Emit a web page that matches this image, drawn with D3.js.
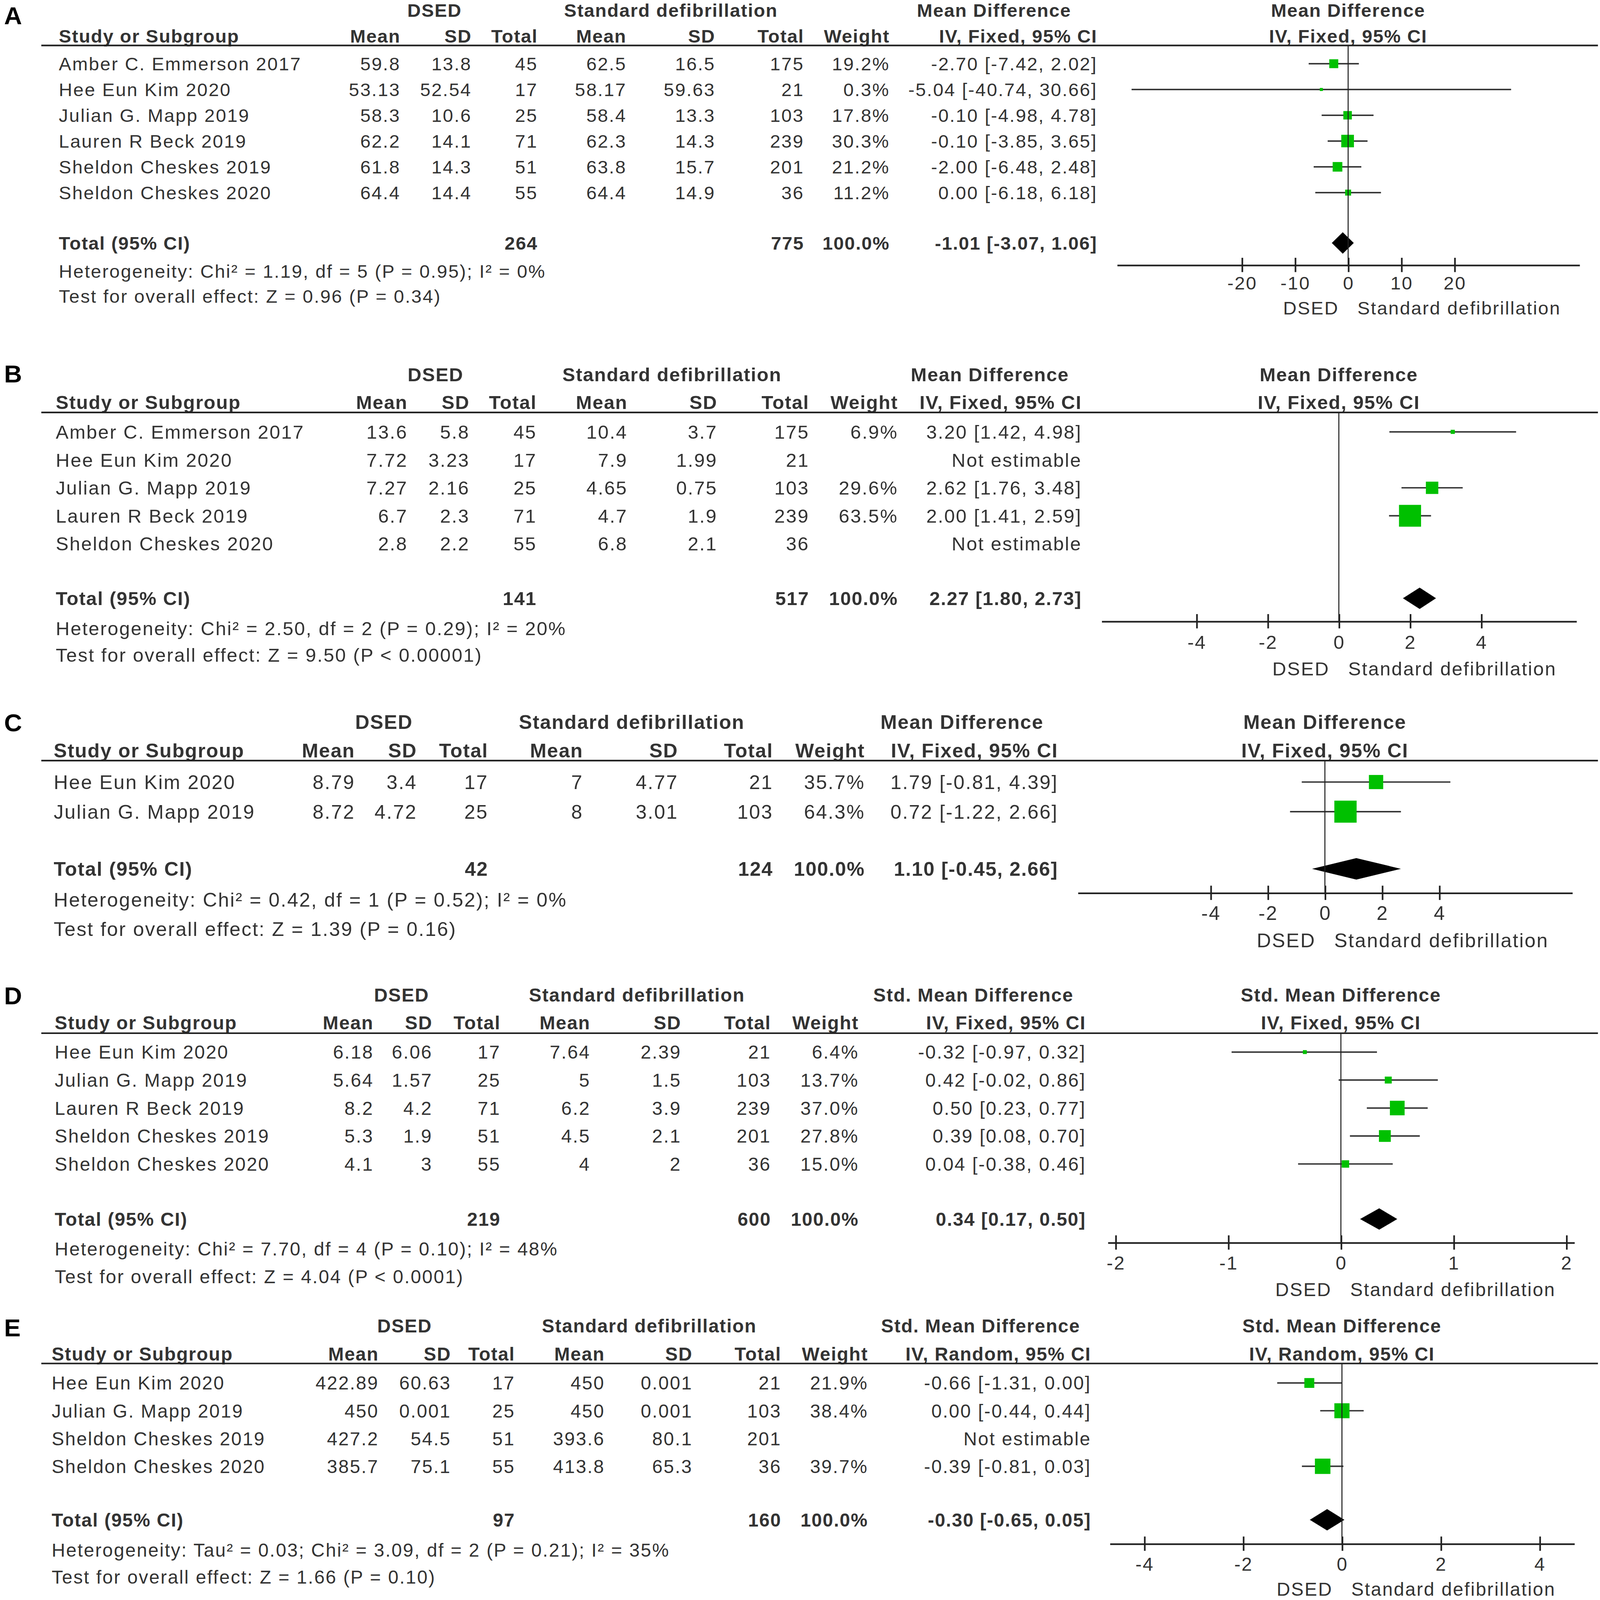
<!DOCTYPE html>
<html>
<head>
<meta charset="utf-8">
<script src="https://cdn.jsdelivr.net/npm/d3@7"></script>
<style>
  html, body { margin: 0; padding: 0; background: #fff; overflow: hidden; }
  svg { display: block; width: 100vw; height: 100vh; }
</style>
</head>
<body>
<svg id="chart"></svg>
<script>
// ---- data ----
// row: [study, DSED mean, DSED SD, DSED n, std mean, std SD, std n, weight %, effect, lower, upper]
var rowsA = [
  ['Amber C. Emmerson 2017', 59.8, 13.8, 45, 62.5, 16.5, 175, 19.2, -2.70, -7.42, 2.02],
  ['Hee Eun Kim 2020', 53.13, 52.54, 17, 58.17, 59.63, 21, 0.3, -5.04, -40.74, 30.66],
  ['Julian G. Mapp 2019', 58.3, 10.6, 25, 58.4, 13.3, 103, 17.8, -0.10, -4.98, 4.78],
  ['Lauren R Beck 2019', 62.2, 14.1, 71, 62.3, 14.3, 239, 30.3, -0.10, -3.85, 3.65],
  ['Sheldon Cheskes 2019', 61.8, 14.3, 51, 63.8, 15.7, 201, 21.2, -2.00, -6.48, 2.48],
  ['Sheldon Cheskes 2020', 64.4, 14.4, 55, 64.4, 14.9, 36, 11.2, 0.00, -6.18, 6.18]
];
var rowsB = [
  ['Amber C. Emmerson 2017', 13.6, 5.8, 45, 10.4, 3.7, 175, 6.9, 3.20, 1.42, 4.98],
  ['Hee Eun Kim 2020', 7.72, 3.23, 17, 7.9, 1.99, 21, null, null, null, null],
  ['Julian G. Mapp 2019', 7.27, 2.16, 25, 4.65, 0.75, 103, 29.6, 2.62, 1.76, 3.48],
  ['Lauren R Beck 2019', 6.7, 2.3, 71, 4.7, 1.9, 239, 63.5, 2.00, 1.41, 2.59],
  ['Sheldon Cheskes 2020', 2.8, 2.2, 55, 6.8, 2.1, 36, null, null, null, null]
];
var rowsC = [
  ['Hee Eun Kim 2020', 8.79, 3.4, 17, 7, 4.77, 21, 35.7, 1.79, -0.81, 4.39],
  ['Julian G. Mapp 2019', 8.72, 4.72, 25, 8, 3.01, 103, 64.3, 0.72, -1.22, 2.66]
];
var rowsD = [
  ['Hee Eun Kim 2020', 6.18, 6.06, 17, 7.64, 2.39, 21, 6.4, -0.32, -0.97, 0.32],
  ['Julian G. Mapp 2019', 5.64, 1.57, 25, 5, 1.5, 103, 13.7, 0.42, -0.02, 0.86],
  ['Lauren R Beck 2019', 8.2, 4.2, 71, 6.2, 3.9, 239, 37.0, 0.50, 0.23, 0.77],
  ['Sheldon Cheskes 2019', 5.3, 1.9, 51, 4.5, 2.1, 201, 27.8, 0.39, 0.08, 0.70],
  ['Sheldon Cheskes 2020', 4.1, 3, 55, 4, 2, 36, 15.0, 0.04, -0.38, 0.46]
];
var rowsE = [
  ['Hee Eun Kim 2020', 422.89, 60.63, 17, 450, 0.001, 21, 21.9, -0.66, -1.31, 0.00],
  ['Julian G. Mapp 2019', 450, 0.001, 25, 450, 0.001, 103, 38.4, 0.00, -0.44, 0.44],
  ['Sheldon Cheskes 2019', 427.2, 54.5, 51, 393.6, 80.1, 201, null, null, null, null],
  ['Sheldon Cheskes 2020', 385.7, 75.1, 55, 413.8, 65.3, 36, 39.7, -0.39, -0.81, 0.03]
];

// totals: [DSED n, std n, weight %, effect, lower, upper]
var totalA = [264, 775, 100.0, -1.01, -3.07, 1.06];
var totalB = [141, 517, 100.0, 2.27, 1.80, 2.73];
var totalC = [42, 124, 100.0, 1.10, -0.45, 2.66];
var totalD = [219, 600, 100.0, 0.34, 0.17, 0.50];
var totalE = [97, 160, 100.0, -0.30, -0.65, 0.05];

var hetA = ['Heterogeneity: Chi² = 1.19, df = 5 (P = 0.95); I² = 0%', 'Test for overall effect: Z = 0.96 (P = 0.34)'];
var hetB = ['Heterogeneity: Chi² = 2.50, df = 2 (P = 0.29); I² = 20%', 'Test for overall effect: Z = 9.50 (P < 0.00001)'];
var hetC = ['Heterogeneity: Chi² = 0.42, df = 1 (P = 0.52); I² = 0%', 'Test for overall effect: Z = 1.39 (P = 0.16)'];
var hetD = ['Heterogeneity: Chi² = 7.70, df = 4 (P = 0.10); I² = 48%', 'Test for overall effect: Z = 4.04 (P < 0.0001)'];
var hetE = ['Heterogeneity: Tau² = 0.03; Chi² = 3.09, df = 2 (P = 0.21); I² = 35%', 'Test for overall effect: Z = 1.66 (P = 0.10)'];

var ticksA = [-20, -10, 0, 10, 20];
var ticksB = [-4, -2, 0, 2, 4];
var ticksC = [-4, -2, 0, 2, 4];
var ticksD = [-2, -1, 0, 1, 2];
var ticksE = [-4, -2, 0, 2, 4];

var groupLabels = ['DSED', 'Standard defibrillation'];
var colLabels = ['Mean', 'SD', 'Total', 'Mean', 'SD', 'Total', 'Weight'];

// ---- layout (figure drawn in a 1550 x 1567 unit space, stretched to the window) ----
var VW = 1550, VH = 1550 * 4471 / 4422;
var FONT = "'Liberation Sans', Arial, sans-serif";
var INK = '#333', LINE = '#222', GREEN = '#00c000';

var panels = [
  { letter: 'A', rows: rowsA, total: totalA, het: hetA, ticks: ticksA,
    effect: 'Mean Difference', method: 'IV, Fixed, 95% CI',
    fs: 18, letterY: 23.7, yH1: 10, yH2: 35.2, yLine: 44.5, yRow0: 62.4, step: 25.25,
    yTotal: 238, yHet: 265.5, yTest: 290, yAxis: 259.5, yTick: 277, yLegend: 301.5,
    cols: [57, 388, 457, 521, 607, 693, 779, 862, 1063], groupX: [421, 650, 963],
    range: [1082, 1530], half: 43.5 },
  { letter: 'B', rows: rowsB, total: totalB, het: hetB, ticks: ticksB,
    effect: 'Mean Difference', method: 'IV, Fixed, 95% CI',
    fs: 18.5, letterY: 374.6, yH1: 366.6, yH2: 393.8, yLine: 404, yRow0: 423, step: 27.4,
    yTotal: 586, yHet: 615.5, yTest: 641.5, yAxis: 608.5, yTick: 629, yLegend: 655,
    cols: [54, 395, 455, 520, 608, 695, 784, 870, 1048], groupX: [422, 651, 959],
    range: [1067, 1527], half: 6.67 },
  { letter: 'C', rows: rowsC, total: totalC, het: hetC, ticks: ticksC,
    effect: 'Mean Difference', method: 'IV, Fixed, 95% CI',
    fs: 19.1, letterY: 716.4, yH1: 707, yH2: 735, yLine: 745, yRow0: 766, step: 29,
    yTotal: 851, yHet: 881, yTest: 910, yAxis: 874.5, yTick: 894, yLegend: 921,
    cols: [52, 344, 404, 473, 565, 657, 749, 838, 1025], groupX: [372, 612, 932],
    range: [1044, 1523], half: 8.65 },
  { letter: 'D', rows: rowsD, total: totalD, het: hetD, ticks: ticksD,
    effect: 'Std. Mean Difference', method: 'IV, Fixed, 95% CI',
    fs: 18.2, letterY: 983.6, yH1: 974.5, yH2: 1001.7, yLine: 1012, yRow0: 1030.5, step: 27.4,
    yTotal: 1194, yHet: 1223, yTest: 1250.5, yAxis: 1217, yTick: 1237, yLegend: 1263,
    cols: [53, 362, 419, 485, 572, 660, 747, 832, 1052], groupX: [389, 617, 943],
    range: [1073, 1525], half: 2.07 },
  { letter: 'E', rows: rowsE, total: totalE, het: hetE, ticks: ticksE,
    effect: 'Std. Mean Difference', method: 'IV, Random, 95% CI',
    fs: 18.1, letterY: 1308.8, yH1: 1298.7, yH2: 1326, yLine: 1335.5, yRow0: 1354.6, step: 27.2,
    yTotal: 1488.6, yHet: 1518, yTest: 1544.6, yAxis: 1512, yTick: 1532, yLegend: 1556.5,
    cols: [50, 367, 437, 499, 586, 671, 757, 841, 1057], groupX: [392, 629, 950],
    range: [1075, 1525], half: 4.7 }
];

var svg = d3.select('#chart')
    .attr('viewBox', '0 0 ' + VW + ' ' + VH)
    .attr('preserveAspectRatio', 'none')
    .style('font-family', FONT);

svg.append('rect').attr('width', VW).attr('height', VH).attr('fill', '#fff');

function fmt(v) { return String(v); }
function fmtCI(e, lo, hi) {
    return e.toFixed(2) + ' [' + lo.toFixed(2) + ', ' + hi.toFixed(2) + ']';
}
// square side grows with study weight
function boxSize(w) { return Math.max(3, 0.95 * Math.pow(w, 0.75)); }

panels.forEach(function(p) {
    var g = svg.append('g').attr('class', 'panel panel-' + p.letter),
        fs = p.fs,
        base = function(c) { return c + 0.36 * fs; },
        x = d3.scaleLinear().domain([-p.half, p.half]).range(p.range),
        x0 = x(0);

    function label(parent, tx, ty, str, anchor, bold) {
        return parent.append('text')
            .attr('x', tx).attr('y', base(ty))
            .attr('text-anchor', anchor || 'start')
            .attr('fill', INK)
            .style('font-size', fs + 'px')
            .style('font-weight', bold ? 'bold' : 'normal')
            .style('letter-spacing', bold ? '0.7px' : '1px')
            .text(str);
    }

    // panel letter
    g.append('text')
        .attr('x', 4).attr('y', p.letterY)
        .attr('fill', '#000')
        .style('font-size', '24px').style('font-weight', 'bold')
        .text(p.letter);

    // header, first line
    label(g, p.groupX[0], p.yH1, groupLabels[0], 'middle', true);
    label(g, p.groupX[1], p.yH1, groupLabels[1], 'middle', true);
    label(g, p.groupX[2], p.yH1, p.effect, 'middle', true);
    label(g, x0, p.yH1, p.effect, 'middle', true);

    // header, second line
    label(g, p.cols[0], p.yH2, 'Study or Subgroup', 'start', true);
    colLabels.forEach(function(c, i) { label(g, p.cols[i + 1], p.yH2, c, 'end', true); });
    label(g, p.cols[8], p.yH2, p.method, 'end', true);
    label(g, x0, p.yH2, p.method, 'middle', true);

    g.append('line')
        .attr('x1', 40).attr('x2', 1548)
        .attr('y1', p.yLine).attr('y2', p.yLine)
        .attr('stroke', LINE).attr('stroke-width', 1.6);

    // study rows
    var rowY = function(i) { return p.yRow0 + i * p.step; };
    var rows = g.selectAll('g.row')
        .data(p.rows)
      .enter().append('g')
        .attr('class', 'row');

    rows.each(function(d, i) {
        var r = d3.select(this), cy = rowY(i);
        label(r, p.cols[0], cy, d[0], 'start');
        for (var k = 1; k <= 6; k++) label(r, p.cols[k], cy, fmt(d[k]), 'end');
        if (d[7] === null) {
            label(r, p.cols[8], cy, 'Not estimable', 'end');
            return;
        }
        label(r, p.cols[7], cy, d[7].toFixed(1) + '%', 'end');
        label(r, p.cols[8], cy, fmtCI(d[8], d[9], d[10]), 'end');

        r.append('line')
            .attr('x1', x(d[9])).attr('x2', x(d[10]))
            .attr('y1', cy).attr('y2', cy)
            .attr('stroke', INK).attr('stroke-width', 1.4);
        var s = boxSize(d[7]);
        r.append('rect')
            .attr('x', x(d[8]) - s / 2).attr('y', cy - s / 2)
            .attr('width', s).attr('height', s)
            .attr('fill', GREEN);
    });

    // pooled row
    var t = p.total;
    label(g, p.cols[0], p.yTotal, 'Total (95% CI)', 'start', true);
    label(g, p.cols[3], p.yTotal, fmt(t[0]), 'end', true);
    label(g, p.cols[6], p.yTotal, fmt(t[1]), 'end', true);
    label(g, p.cols[7], p.yTotal, t[2].toFixed(1) + '%', 'end', true);
    label(g, p.cols[8], p.yTotal, fmtCI(t[3], t[4], t[5]), 'end', true);

    var dh = 10.5;
    g.append('path')
        .attr('d', 'M' + x(t[4]) + ',' + p.yTotal +
                   'L' + x(t[3]) + ',' + (p.yTotal - dh) +
                   'L' + x(t[5]) + ',' + p.yTotal +
                   'L' + x(t[3]) + ',' + (p.yTotal + dh) + 'Z')
        .attr('fill', '#000');

    label(g, p.cols[0], p.yHet, p.het[0], 'start');
    label(g, p.cols[0], p.yTest, p.het[1], 'start');

    // line of no effect
    g.append('line')
        .attr('x1', x0).attr('x2', x0)
        .attr('y1', p.yLine).attr('y2', p.yAxis)
        .attr('stroke', LINE).attr('stroke-width', 1);

    // axis
    var dy = p.yTick - p.yAxis;
    var axis = d3.axisBottom(x)
        .tickValues(p.ticks)
        .tickFormat(function(v) { return String(v); })
        .tickSizeInner(7)
        .tickSizeOuter(0)
        .tickPadding(dy - 0.35 * fs - 7);
    var ga = g.append('g')
        .attr('transform', 'translate(0,' + p.yAxis + ')')
        .call(axis)
        .attr('font-family', FONT)
        .attr('font-size', fs);
    ga.select('.domain').attr('stroke', LINE).attr('stroke-width', 1.6);
    ga.selectAll('.tick line')
        .attr('y1', -7).attr('y2', 7)
        .attr('stroke', LINE).attr('stroke-width', 1.6);
    ga.selectAll('.tick text')
        .attr('fill', INK)
        .style('letter-spacing', '1px');

    label(g, x0 - 9, p.yLegend, groupLabels[0], 'end');
    label(g, x0 + 9, p.yLegend, groupLabels[1], 'start');
});
</script>
</body>
</html>
